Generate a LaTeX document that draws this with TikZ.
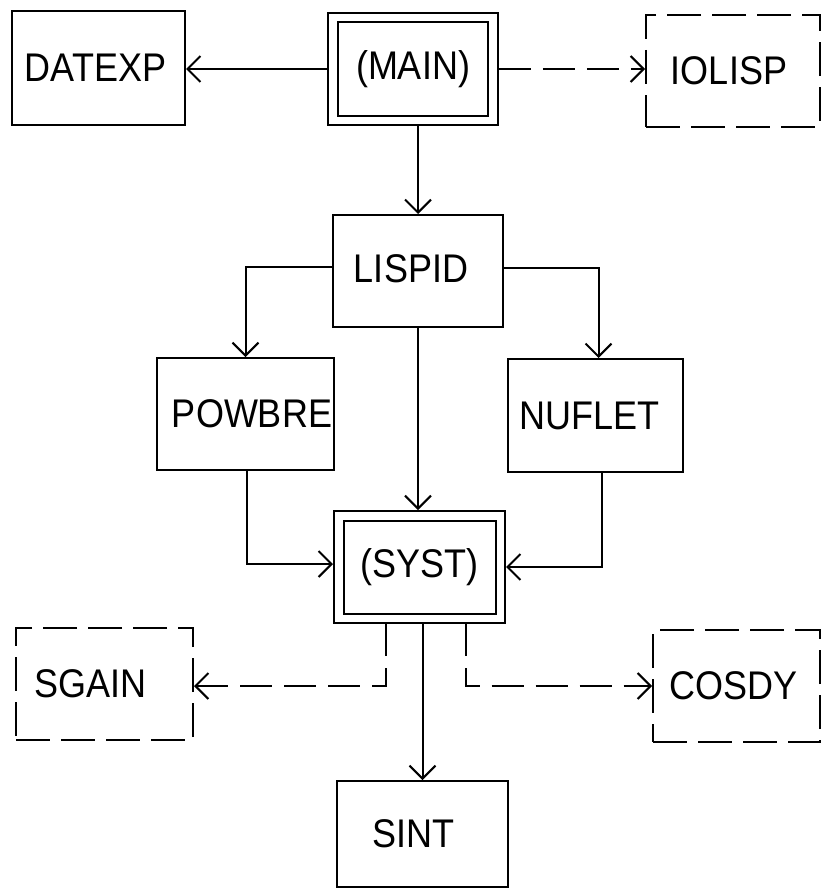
\documentclass[tikz,border=0pt]{standalone}
\usepackage{fontspec}
\newfontfamily\lettering[FakeStretch=0.9]{Liberation Sans}
\usetikzlibrary{arrows.meta,calc}
\begin{document}
\begin{tikzpicture}[x=1pt,y=-1pt,
  every node/.style={font=\lettering\fontsize{40}{44}\selectfont},
  box/.style={draw, line width=2pt, rectangle, inner sep=0pt, outer sep=1pt},
  dbox/.style={draw, line width=2pt, rectangle, inner sep=0pt, double, double distance=7.5pt, outer sep=5.75pt},
  dashbox/.style={box, dash pattern=on 34pt off 11pt},
  conn/.style={line width=2pt, -{Straight Barb[length=13pt,width=26pt,line width=2pt]}},
  dconn/.style={conn, dash pattern=on 32pt off 12pt}]
\useasboundingbox[fill=white] (0,0) rectangle (822,891);

\node[box, minimum width=173pt, minimum height=113pt] (datexp) at (98.5,68) {DATEXP\kern6pt};
\node[dbox, minimum width=160pt, minimum height=103pt] (main) at (413,69) {(MAIN)};
\node[dashbox, minimum width=174pt, minimum height=112pt] (iolisp) at (733,71) {IOLISP\kern8pt};
\node[box, minimum width=170pt, minimum height=112pt] (lispid) at (418,271) {\raisebox{4pt}{LISPID}\kern14pt};
\node[box, minimum width=177pt, minimum height=112pt] (powbre) at (245.5,414) {\kern13pt POWBRE};
\node[box, minimum width=175pt, minimum height=113pt] (nuflet) at (595.5,415.5) {NUFLET\kern12pt};
\node[dbox, minimum width=161.5pt, minimum height=102.5pt] (syst) at (419.5,567) {(SYST)};
\node[dashbox, minimum width=177pt, minimum height=112pt] (sgain) at (104.5,684) {SGAIN\kern28pt};
\node[dashbox, minimum width=167pt, minimum height=112pt] (cosdy) at (736.5,686) {COSDY\kern6pt};
\node[box, minimum width=171pt, minimum height=106pt] (sint) at (422.5,834) {SINT\kern18pt};

\draw[conn] (main.west) -- (main.west -| datexp.east);
\draw[dconn] (main.east) -- (main.east -| iolisp.west);
\draw[conn] (main.south -| lispid.north) -- (lispid.north);
\draw[conn] ([yshift=4pt]lispid.west) -| (powbre.north);
\draw[conn] ([yshift=3pt]lispid.east) -| ([xshift=3pt]nuflet.north);
\draw[conn] (lispid.south) -- (lispid.south |- syst.north);
\draw[conn] ([xshift=1.5pt]powbre.south) |- ([yshift=3pt]syst.west);
\draw[conn] ([xshift=6pt]nuflet.south) |- (syst.east);
\draw[conn] (syst.south -| sint.north) -- (sint.north);
\draw[dconn] ([xshift=-34pt]syst.south) |- ([yshift=-2pt]sgain.east);
\draw[dconn] ([xshift=46pt]syst.south) |- (cosdy.west);
\end{tikzpicture}
\end{document}
